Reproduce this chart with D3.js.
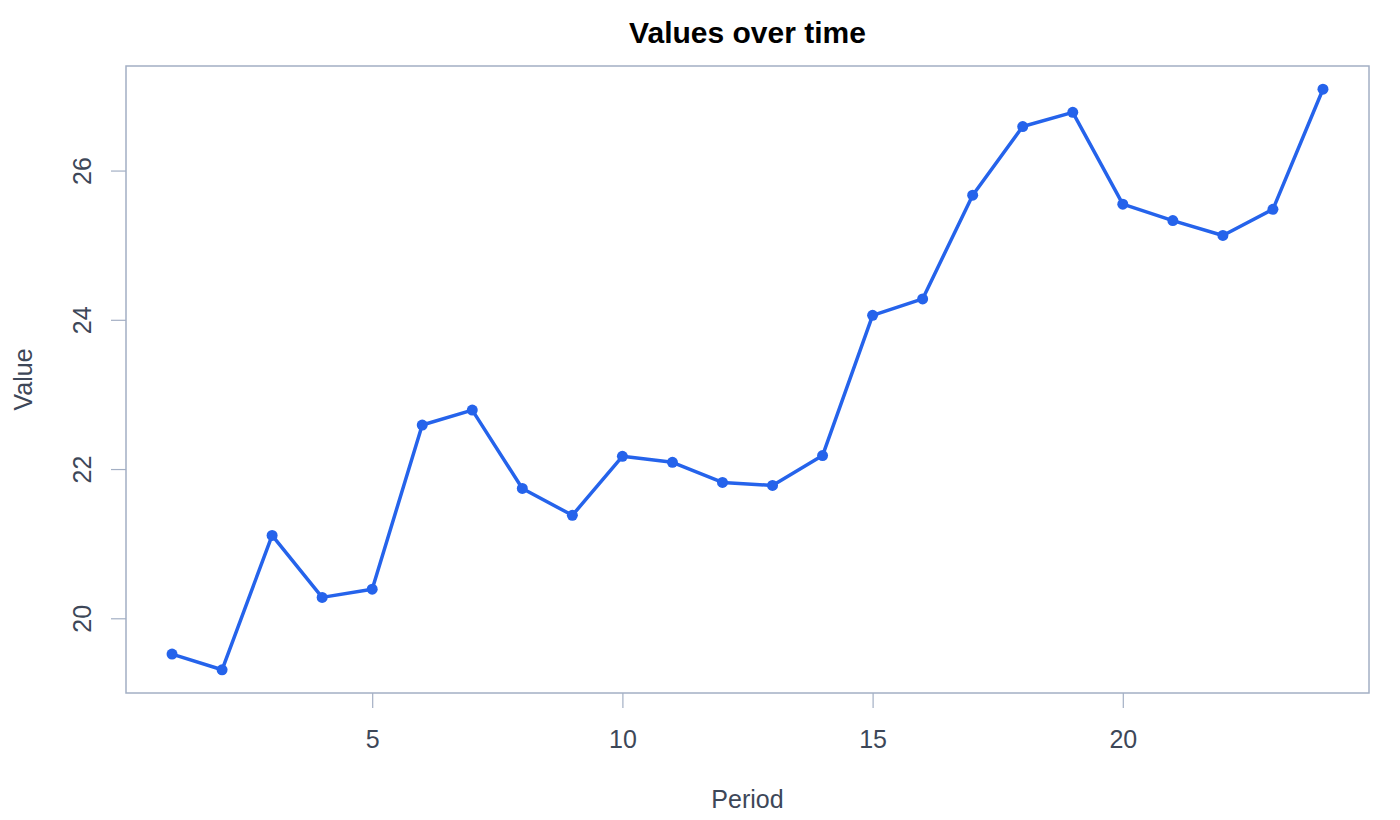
<!DOCTYPE html>
<html>
<head>
<meta charset="utf-8">
<script src="https://cdn.jsdelivr.net/npm/d3@7"></script>
<style>
  body { margin: 0; background: #fff; }
  text { font-family: "Liberation Sans", Arial, Helvetica, sans-serif; }
</style>
</head>
<body>
<script>
// data
var periods = d3.range(1, 25);
var values = [19.52, 19.31, 21.11, 20.28, 20.39, 22.59, 22.79, 21.74, 21.38, 22.17,
              22.09, 21.82, 21.78, 22.18, 24.06, 24.28, 25.67, 26.59, 26.78, 25.55,
              25.33, 25.13, 25.48, 27.09];
var xTicks = [5, 10, 15, 20];
var yTicks = [20, 22, 24, 26];

var W = 1400, H = 820;
var plotL = 126, plotR = 1369, plotT = 66, plotB = 693;
var axisCol = "#a3afc4", textCol = "#3d4758", lineCol = "#2563eb";

var svg = d3.select("body").append("svg").attr("width", W).attr("height", H);

// R style: pad the data range by 4% on each side
function padded(ext) {
  var s = ext[1] - ext[0];
  return [ext[0] - 0.04 * s, ext[1] + 0.04 * s];
}
var x = d3.scaleLinear().domain(padded(d3.extent(periods))).range([plotL, plotR]);
var y = d3.scaleLinear().domain(padded(d3.extent(values))).range([plotB, plotT]);

// box
svg.append("rect")
  .attr("x", plotL).attr("y", plotT)
  .attr("width", plotR - plotL).attr("height", plotB - plotT)
  .attr("fill", "none").attr("stroke", axisCol).attr("stroke-width", 1.5);

// x axis
var xa = svg.append("g").attr("transform", "translate(0," + plotB + ")")
  .call(d3.axisBottom(x).tickValues(xTicks).tickSize(15).tickPadding(22));
xa.select(".domain").remove();
xa.selectAll("line").attr("stroke", axisCol).attr("stroke-width", 1.2);
xa.selectAll("text").attr("fill", textCol).style("font-size", "25px");

// y axis, labels turned like R's las=0
var ya = svg.append("g").attr("transform", "translate(" + plotL + ",0)")
  .call(d3.axisLeft(y).tickValues(yTicks).tickSize(15));
ya.select(".domain").remove();
ya.selectAll("line").attr("stroke", axisCol).attr("stroke-width", 1.2);
ya.selectAll("text")
  .attr("fill", textCol).style("font-size", "25px")
  .attr("text-anchor", "middle")
  .attr("x", 0).attr("y", 0).attr("dy", "0.35em")
  .attr("transform", "translate(-44,0) rotate(-90)");

// line and points
var line = d3.line().x(function(d, i) { return x(periods[i]); }).y(function(d) { return y(d); });
svg.append("path").datum(values)
  .attr("d", line).attr("fill", "none")
  .attr("stroke", lineCol).attr("stroke-width", 3.5).attr("stroke-linejoin", "round");

svg.selectAll(".pt").data(values).enter().append("circle")
  .attr("class", "pt")
  .attr("cx", function(d, i) { return x(periods[i]); })
  .attr("cy", function(d) { return y(d); })
  .attr("r", 5.5).attr("fill", lineCol);

// titles
svg.append("text").attr("x", (plotL + plotR) / 2).attr("y", 43)
  .attr("text-anchor", "middle").style("font-size", "30px").style("font-weight", "bold")
  .attr("fill", "#000").text("Values over time");

svg.append("text").attr("x", (plotL + plotR) / 2).attr("y", 808)
  .attr("text-anchor", "middle").style("font-size", "25px")
  .attr("fill", textCol).text("Period");

svg.append("text").attr("transform", "translate(32," + (plotT + plotB) / 2 + ") rotate(-90)")
  .attr("text-anchor", "middle").style("font-size", "25px")
  .attr("fill", textCol).text("Value");
</script>
</body>
</html>
